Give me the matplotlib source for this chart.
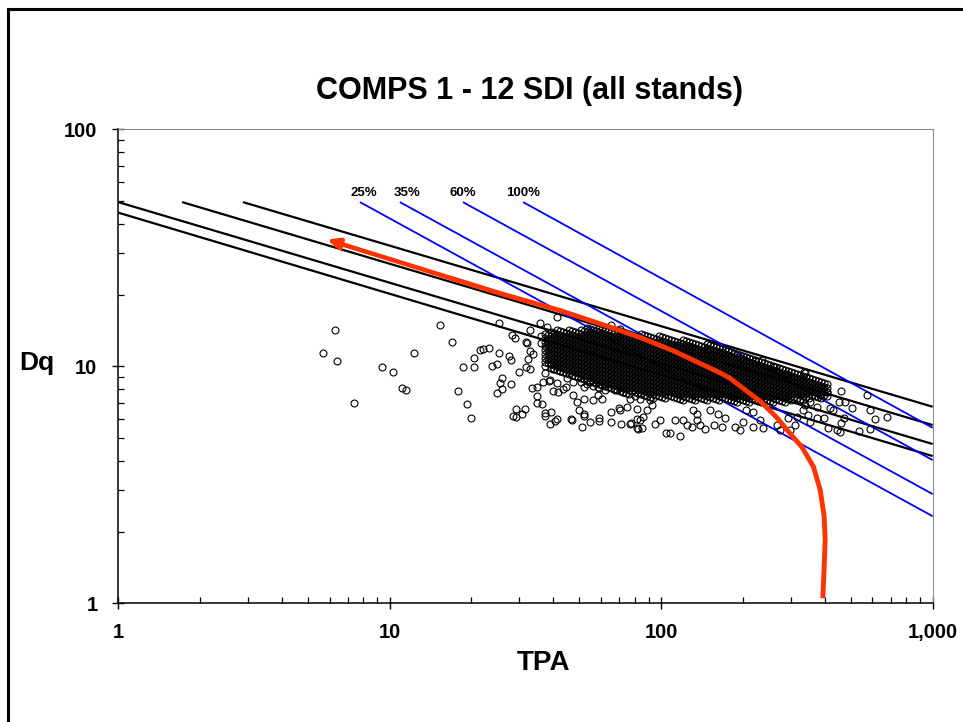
import matplotlib
matplotlib.use('Agg')
import matplotlib.pyplot as plt
from matplotlib.lines import Line2D
from matplotlib.ticker import LogLocator, NullFormatter

plt.rcParams['font.family'] = ['Liberation Sans', 'DejaVu Sans']
plt.rcParams['font.weight'] = 'bold'

# ---------------- data ----------------
title = "COMPS 1 - 12 SDI (all stands)"
x_ticks = [1, 10, 100, 1000]
x_tick_labels = ["1", "10", "100", "1,000"]
y_ticks = [1, 10, 100]
y_tick_labels = ["1", "10", "100"]

# black reference lines: start (TPA, Dq) -> end (TPA, Dq)
black_start_tpa = [2.88, 1.72, 1.0, 1.0]
black_start_dq = [49.3, 49.3, 49.3, 44.5]
black_end_tpa = [1000, 1000, 1000, 1000]
black_end_dq = [6.75, 5.65, 4.70, 4.18]

# blue SDI lines
sdi_labels = ["25%", "35%", "60%", "100%"]
sdi_label_tpa = [8.04, 11.55, 18.6, 31.1]
sdi_start_tpa = [7.77, 10.9, 18.6, 31.0]
sdi_start_dq = [49.3, 49.3, 49.3, 49.3]
sdi_end_tpa = [1000, 1000, 1000, 1000]
sdi_end_dq = [2.33, 2.89, 4.02, 5.50]

# red trajectory (arrow tip first)
red_tpa = [5.86, 16.7, 25.5, 42.4, 63.0, 83.5, 110.9, 138.9, 164.6, 179.2, 195.1,
           231.2, 266.3, 298.2, 329.6, 363.8, 385.4, 398.4, 401.8, 398.4, 393.9]
red_dq = [34.3, 23.6, 20.3, 17.2, 14.8, 13.24, 11.63, 10.29, 9.39, 8.91, 8.26,
          7.13, 6.09, 5.21, 4.57, 3.77, 3.00, 2.32, 1.85, 1.42, 1.05]

# scattered stands (readable individual points)
stand_tpa = [5.66, 6.26, 6.4, 7.4, 9.4, 10.3, 11.1, 11.5, 12.3, 15.3, 17.0, 17.8, 18.6, 19.3,
             19.9, 20.5, 20.4, 21.5, 22.1, 23.3, 25.3, 23.8, 24.8, 25.4, 26.0, 24.8, 26.0,
             28.0, 27.4, 27.9, 25.2, 28.2, 28.9, 29.9, 29.3, 28.4, 29.3, 30.6, 31.5, 31.8,
             32.1, 32.9, 32.8, 33.6, 31.8, 32.9, 32.2, 33.3, 34.8, 34.8, 34.8, 36.5, 35.8,
             37.9, 41.2, 36.1, 36.0, 37.3, 37.2, 39.3, 39.0, 40.6, 41.4, 39.8, 41.6, 43.6,
             36.8, 38.7, 41.2, 44.5, 46.4, 51.0, 54.8, 52.1, 59.2, 59.1, 65.6, 70.2, 81.9,
             85.0, 77.1, 81.2,
             38.9, 46.8, 51.9, 49.6, 48.9, 47.5, 51.9, 56.2, 58.6, 60.3, 70.5, 65.6, 71.2,
             76.7, 83.5, 85.9, 81.2, 88.6, 92.2, 99.0, 95.0, 104.6, 107.7, 117.3, 112.4,
             120.6, 124.1, 129.6, 135.1, 138.9, 145.0, 156.0, 167.5, 151.2, 162.0, 135.0,
             131.4, 39.9, 37.3, 42.4, 44.9, 47.5, 51.9, 54.7, 58.6, 62.6, 67.6, 72.6, 76.7,
             83.5, 90.9, 74.9, 81.2,
             171.8, 187.0, 195.1, 200.6, 218.0, 231.0, 238.0, 218.0, 206.0, 266.0, 274.0,
             298.0, 311.0, 294.0, 317.0, 333.0, 347.0, 353.0, 375.0, 397.0, 412.0, 443.0,
             460.0, 472.0, 419.0, 430.0, 451.0, 475.0, 504.0, 459.0, 339.0, 573.0, 588.0,
             613.0, 677.0, 537.0, 588.0, 407.0, 385.0, 375.0, 353.0, 324.0, 339.0, 456.0,
             65.6, 70.5, 114.0, 147.0, 167.0, 190.0, 221.0, 235.0, 260.0, 290.0, 336.0]
stand_dq = [11.4, 14.2, 10.5, 7.0, 9.9, 9.5, 8.1, 7.94, 11.4, 14.9, 12.7, 7.9, 9.9, 6.9,
            6.05, 9.9, 10.8, 11.7, 11.8, 11.9, 11.4, 10.0, 10.2, 8.5, 8.9, 7.7, 8.0,
            8.4, 11.0, 10.6, 15.2, 13.6, 13.2, 9.5, 6.6, 6.2, 6.1, 6.3, 6.6, 12.7,
            12.5, 14.2, 11.6, 11.3, 9.9, 9.7, 10.7, 8.1, 8.2, 7.5, 7.0, 6.9, 15.2,
            14.7, 16.1, 13.4, 12.6, 6.35, 6.2, 6.4, 5.7, 5.85, 6.0, 7.9, 7.8, 8.0,
            8.6, 8.7, 8.5, 8.2, 6.0, 5.55, 5.8, 6.2, 6.05, 5.9, 6.4, 6.65, 5.45,
            5.5, 5.75, 6.0,
            8.75, 5.93, 6.3, 6.54, 7.1, 7.56, 7.3, 7.2, 7.56, 7.3, 6.54, 5.83, 5.73,
            5.73, 5.93, 6.12, 5.47, 6.54, 6.86, 5.93, 5.73, 5.23, 5.23, 5.08, 5.93,
            5.93, 5.65, 5.55, 5.93, 5.65, 5.45, 5.65, 5.55, 6.54, 6.3, 6.3,
            6.54, 9.74, 9.4, 9.6, 8.9, 8.6, 8.2, 8.6, 8.2, 8.34, 7.94, 7.8, 7.3,
            7.3, 7.2, 6.75, 6.6,
            6.03, 5.55, 5.39, 5.83, 5.55, 5.93, 5.47, 6.4, 6.54, 5.65, 5.39,
            5.39, 5.65, 6.03, 6.12, 6.54, 6.23, 5.83, 6.03, 6.03, 5.47, 5.39,
            5.74, 6.03, 6.7, 6.54, 7.1, 7.05, 6.7, 7.9, 9.4, 7.56, 6.54,
            6.0, 6.12, 5.32, 5.42, 7.8, 7.56, 6.75, 7.05, 7.2, 6.86, 5.3,
            15.0, 14.3, 12.3, 11.8, 11.5, 10.3, 10.5, 10.6, 9.9, 9.3, 9.5]

# dense core of stands, estimated column by column (TPA, list of Dq)
core_tpa = [37.32, 39.3, 41.3, 43.5, 45.7, 48.1, 50.6, 53.3, 56.0, 59.0, 62.1, 65.3,
            68.7, 72.3, 76.1, 80.1, 84.2, 88.6, 93.3, 98.2, 103.3, 108.7, 114.3, 120.3,
            126.6, 133.2, 140.2, 147.5, 155.2, 163.3, 171.8, 180.8, 190.2, 200.2, 210.6,
            221.5, 233.1, 245.3, 258.1, 271.6, 285.8, 300.7, 316.4, 332.9, 350.3, 368.6,
            387.8, 408.1]
core_dq = [
    [13.68, 13.16, 12.66, 12.18, 11.71, 11.26, 10.84, 10.42, 10.03],
    [13.94, 13.41, 12.90, 12.41, 11.94, 11.49, 11.05, 10.63, 10.22, 9.83],
    [14.22, 13.68, 13.16, 12.66, 12.18, 11.71, 11.26, 10.84, 10.42, 10.03, 9.64],
    [13.94, 13.41, 12.90, 12.41, 11.94, 11.49, 11.05, 10.63, 10.22, 9.83, 9.46],
    [14.22, 13.68, 13.16, 12.66, 12.18, 11.71, 11.26, 10.84, 10.42, 10.03, 9.64, 9.28],
    [13.94, 13.41, 12.90, 12.41, 11.94, 11.49, 11.05, 10.63, 10.22, 9.83, 9.46, 9.10],
    [14.22, 13.68, 13.16, 12.66, 12.18, 11.71, 11.26, 10.84, 10.42, 10.03, 9.64, 9.28, 8.92, 8.58],
    [14.49, 13.94, 13.41, 12.90, 12.41, 11.94, 11.49, 11.05, 10.63, 10.22, 9.83, 9.46, 9.10, 8.75, 8.42],
    [14.22, 13.68, 13.16, 12.66, 12.18, 11.71, 11.26, 10.84, 10.42, 10.03, 9.64, 9.28, 8.92, 8.58, 8.26],
    [14.49, 13.94, 13.41, 12.90, 12.41, 11.94, 11.49, 11.05, 10.63, 10.22, 9.83, 9.46, 9.10, 8.75, 8.42, 8.10],
    [14.22, 13.68, 13.16, 12.66, 12.18, 11.71, 11.26, 10.84, 10.42, 10.03, 9.64, 9.28, 8.92, 8.58, 8.26, 7.94],
    [13.94, 13.41, 12.90, 12.41, 11.94, 11.49, 11.05, 10.63, 10.22, 9.83, 9.46, 9.10, 8.75, 8.42, 8.10],
    [14.22, 13.68, 13.16, 12.66, 12.18, 11.71, 11.26, 10.84, 10.42, 10.03, 9.64, 9.28, 8.92, 8.58, 8.26, 7.94],
    [13.94, 13.41, 12.90, 12.41, 11.94, 11.49, 11.05, 10.63, 10.22, 9.83, 9.46, 9.10, 8.75, 8.42, 8.10, 7.79],
    [13.68, 13.16, 12.66, 12.18, 11.71, 11.26, 10.84, 10.42, 10.03, 9.64, 9.28, 8.92, 8.58, 8.26, 7.94, 7.64],
    [13.41, 12.90, 12.41, 11.94, 11.49, 11.05, 10.63, 10.22, 9.83, 9.46, 9.10, 8.75, 8.42, 8.10, 7.79, 7.49],
    [13.68, 13.16, 12.66, 12.18, 11.71, 11.26, 10.84, 10.42, 10.03, 9.64, 9.28, 8.92, 8.58, 8.26, 7.94, 7.64],
    [13.41, 12.90, 12.41, 11.94, 11.49, 11.05, 10.63, 10.22, 9.83, 9.46, 9.10, 8.75, 8.42, 8.10, 7.79, 7.49],
    [13.16, 12.66, 12.18, 11.71, 11.26, 10.84, 10.42, 10.03, 9.64, 9.28, 8.92, 8.58, 8.26, 7.94, 7.64, 7.35],
    [13.41, 12.90, 12.41, 11.94, 11.49, 11.05, 10.63, 10.22, 9.83, 9.46, 9.10, 8.75, 8.42, 8.10, 7.79, 7.49],
    [13.16, 12.66, 12.18, 11.71, 11.26, 10.84, 10.42, 10.03, 9.64, 9.28, 8.92, 8.58, 8.26, 7.94, 7.64, 7.35],
    [12.90, 12.41, 11.94, 11.49, 11.05, 10.63, 10.22, 9.83, 9.46, 9.10, 8.75, 8.42, 8.10, 7.79, 7.49],
    [12.66, 12.18, 11.71, 11.26, 10.84, 10.42, 10.03, 9.64, 9.28, 8.92, 8.58, 8.26, 7.94, 7.64, 7.35],
    [12.90, 12.41, 11.94, 11.49, 11.05, 10.63, 10.22, 9.83, 9.46, 9.10, 8.75, 8.42, 8.10, 7.79, 7.49, 7.21],
    [12.66, 12.18, 11.71, 11.26, 10.84, 10.42, 10.03, 9.64, 9.28, 8.92, 8.58, 8.26, 7.94, 7.64, 7.35],
    [12.41, 11.94, 11.49, 11.05, 10.63, 10.22, 9.83, 9.46, 9.10, 8.75, 8.42, 8.10, 7.79, 7.49, 7.21],
    [12.18, 11.71, 11.26, 10.84, 10.42, 10.03, 9.64, 9.28, 8.92, 8.58, 8.26, 7.94, 7.64, 7.35],
    [12.41, 11.94, 11.49, 11.05, 10.63, 10.22, 9.83, 9.46, 9.10, 8.75, 8.42, 8.10, 7.79, 7.49, 7.21],
    [12.18, 11.71, 11.26, 10.84, 10.42, 10.03, 9.64, 9.28, 8.92, 8.58, 8.26, 7.94, 7.64, 7.35],
    [11.94, 11.49, 11.05, 10.63, 10.22, 9.83, 9.46, 9.10, 8.75, 8.42, 8.10, 7.79, 7.49, 7.21],
    [11.71, 11.26, 10.84, 10.42, 10.03, 9.64, 9.28, 8.92, 8.58, 8.26, 7.94, 7.64, 7.35],
    [11.49, 11.05, 10.63, 10.22, 9.83, 9.46, 9.10, 8.75, 8.42, 8.10, 7.79, 7.49, 7.21],
    [11.26, 10.84, 10.42, 10.03, 9.64, 9.28, 8.92, 8.58, 8.26, 7.94, 7.64, 7.35, 7.07],
    [11.05, 10.63, 10.22, 9.83, 9.46, 9.10, 8.75, 8.42, 8.10, 7.79, 7.49, 7.21],
    [10.84, 10.42, 10.03, 9.64, 9.28, 8.92, 8.58, 8.26, 7.94, 7.64, 7.35, 7.07],
    [10.63, 10.22, 9.83, 9.46, 9.10, 8.75, 8.42, 8.10, 7.79, 7.49, 7.21],
    [10.42, 10.03, 9.64, 9.28, 8.92, 8.58, 8.26, 7.94, 7.64, 7.35, 7.07],
    [10.22, 9.83, 9.46, 9.10, 8.75, 8.42, 8.10, 7.79, 7.49, 7.21],
    [10.03, 9.64, 9.28, 8.92, 8.58, 8.26, 7.94, 7.64, 7.35, 7.07],
    [9.83, 9.46, 9.10, 8.75, 8.42, 8.10, 7.79, 7.49, 7.21],
    [9.64, 9.28, 8.92, 8.58, 8.26, 7.94, 7.64, 7.35, 7.07],
    [9.46, 9.10, 8.75, 8.42, 8.10, 7.79, 7.49, 7.21],
    [9.28, 8.92, 8.58, 8.26, 7.94, 7.64, 7.35],
    [9.10, 8.75, 8.42, 8.10, 7.79, 7.49, 7.21],
    [8.92, 8.58, 8.26, 7.94, 7.64, 7.35],
    [8.75, 8.42, 8.10, 7.79, 7.49],
    [8.58, 8.26, 7.94, 7.64, 7.35],
    [8.42, 8.10, 7.79, 7.49],
]

# further stands packed in between the core columns
core2_tpa = [38.31, 40.31, 42.42, 44.63, 46.96, 49.41, 51.99, 54.70, 57.56, 60.56, 63.72,
             67.05, 70.55, 74.23, 78.11, 82.19, 86.48, 90.99, 95.76, 100.8, 106.0, 111.6,
             117.4, 123.5, 130.0, 136.8, 143.9, 151.4, 159.3, 167.7, 176.4, 185.6, 195.3,
             205.5, 216.2, 227.5, 239.4, 251.9, 265.0, 278.9, 293.4, 308.7, 324.9, 341.9,
             359.7, 378.5, 398.2]
core2_dq = [
    [13.55, 13.03, 12.53, 12.06, 11.60, 11.15, 10.73, 10.32],
    [13.81, 13.28, 12.78, 12.29, 11.82, 11.37, 10.95, 10.53, 10.12, 9.74],
    [14.08, 13.55, 13.03, 12.53, 12.06, 11.60, 11.15, 10.73, 10.32, 9.93, 9.55],
    [13.81, 13.28, 12.78, 12.29, 11.82, 11.37, 10.95, 10.53, 10.12, 9.74, 9.37],
    [14.08, 13.55, 13.03, 12.53, 12.06, 11.60, 11.15, 10.73, 10.32, 9.93, 9.55, 9.19],
    [13.81, 13.28, 12.78, 12.29, 11.82, 11.37, 10.95, 10.53, 10.12, 9.74, 9.37, 9.01],
    [14.08, 13.55, 13.03, 12.53, 12.06, 11.60, 11.15, 10.73, 10.32, 9.93, 9.55, 9.19, 8.84],
    [14.36, 13.81, 13.28, 12.78, 12.29, 11.82, 11.37, 10.95, 10.53, 10.12, 9.74, 9.37, 9.01, 8.67],
    [14.08, 13.55, 13.03, 12.53, 12.06, 11.60, 11.15, 10.73, 10.32, 9.93, 9.55, 9.19, 8.84, 8.50],
    [14.36, 13.81, 13.28, 12.78, 12.29, 11.82, 11.37, 10.95, 10.53, 10.12, 9.74, 9.37, 9.01, 8.67, 8.34],
    [14.08, 13.55, 13.03, 12.53, 12.06, 11.60, 11.15, 10.73, 10.32, 9.93, 9.55, 9.19, 8.84, 8.50, 8.18],
    [13.81, 13.28, 12.78, 12.29, 11.82, 11.37, 10.95, 10.53, 10.12, 9.74, 9.37, 9.01, 8.67, 8.34, 8.02],
    [14.08, 13.55, 13.03, 12.53, 12.06, 11.60, 11.15, 10.73, 10.32, 9.93, 9.55, 9.19, 8.84, 8.50, 8.18, 7.87],
    [13.81, 13.28, 12.78, 12.29, 11.82, 11.37, 10.95, 10.53, 10.12, 9.74, 9.37, 9.01, 8.67, 8.34, 8.02, 7.71],
    [13.55, 13.03, 12.53, 12.06, 11.60, 11.15, 10.73, 10.32, 9.93, 9.55, 9.19, 8.84, 8.50, 8.18, 7.87],
    [13.28, 12.78, 12.29, 11.82, 11.37, 10.95, 10.53, 10.12, 9.74, 9.37, 9.01, 8.67, 8.34, 8.02, 7.71],
    [13.55, 13.03, 12.53, 12.06, 11.60, 11.15, 10.73, 10.32, 9.93, 9.55, 9.19, 8.84, 8.50, 8.18, 7.87, 7.56],
    [13.28, 12.78, 12.29, 11.82, 11.37, 10.95, 10.53, 10.12, 9.74, 9.37, 9.01, 8.67, 8.34, 8.02, 7.71, 7.42],
    [13.03, 12.53, 12.06, 11.60, 11.15, 10.73, 10.32, 9.93, 9.55, 9.19, 8.84, 8.50, 8.18, 7.87, 7.56],
    [13.28, 12.78, 12.29, 11.82, 11.37, 10.95, 10.53, 10.12, 9.74, 9.37, 9.01, 8.67, 8.34, 8.02, 7.71, 7.42],
    [13.03, 12.53, 12.06, 11.60, 11.15, 10.73, 10.32, 9.93, 9.55, 9.19, 8.84, 8.50, 8.18, 7.87, 7.56],
    [12.78, 12.29, 11.82, 11.37, 10.95, 10.53, 10.12, 9.74, 9.37, 9.01, 8.67, 8.34, 8.02, 7.71, 7.42],
    [12.53, 12.06, 11.60, 11.15, 10.73, 10.32, 9.93, 9.55, 9.19, 8.84, 8.50, 8.18, 7.87, 7.56, 7.28],
    [12.78, 12.29, 11.82, 11.37, 10.95, 10.53, 10.12, 9.74, 9.37, 9.01, 8.67, 8.34, 8.02, 7.71, 7.42],
    [12.53, 12.06, 11.60, 11.15, 10.73, 10.32, 9.93, 9.55, 9.19, 8.84, 8.50, 8.18, 7.87, 7.56, 7.28],
    [12.29, 11.82, 11.37, 10.95, 10.53, 10.12, 9.74, 9.37, 9.01, 8.67, 8.34, 8.02, 7.71, 7.42],
    [12.06, 11.60, 11.15, 10.73, 10.32, 9.93, 9.55, 9.19, 8.84, 8.50, 8.18, 7.87, 7.56, 7.28],
    [12.29, 11.82, 11.37, 10.95, 10.53, 10.12, 9.74, 9.37, 9.01, 8.67, 8.34, 8.02, 7.71, 7.42],
    [12.06, 11.60, 11.15, 10.73, 10.32, 9.93, 9.55, 9.19, 8.84, 8.50, 8.18, 7.87, 7.56, 7.28],
    [11.82, 11.37, 10.95, 10.53, 10.12, 9.74, 9.37, 9.01, 8.67, 8.34, 8.02, 7.71, 7.42],
    [11.60, 11.15, 10.73, 10.32, 9.93, 9.55, 9.19, 8.84, 8.50, 8.18, 7.87, 7.56, 7.28],
    [11.37, 10.95, 10.53, 10.12, 9.74, 9.37, 9.01, 8.67, 8.34, 8.02, 7.71, 7.42, 7.14],
    [11.15, 10.73, 10.32, 9.93, 9.55, 9.19, 8.84, 8.50, 8.18, 7.87, 7.56, 7.28],
    [10.95, 10.53, 10.12, 9.74, 9.37, 9.01, 8.67, 8.34, 8.02, 7.71, 7.42, 7.14],
    [10.73, 10.32, 9.93, 9.55, 9.19, 8.84, 8.50, 8.18, 7.87, 7.56, 7.28],
    [10.53, 10.12, 9.74, 9.37, 9.01, 8.67, 8.34, 8.02, 7.71, 7.42, 7.14],
    [10.32, 9.93, 9.55, 9.19, 8.84, 8.50, 8.18, 7.87, 7.56, 7.28],
    [10.12, 9.74, 9.37, 9.01, 8.67, 8.34, 8.02, 7.71, 7.42, 7.14],
    [9.93, 9.55, 9.19, 8.84, 8.50, 8.18, 7.87, 7.56, 7.28],
    [9.74, 9.37, 9.01, 8.67, 8.34, 8.02, 7.71, 7.42, 7.14],
    [9.55, 9.19, 8.84, 8.50, 8.18, 7.87, 7.56, 7.28],
    [9.37, 9.01, 8.67, 8.34, 8.02, 7.71, 7.42],
    [9.19, 8.84, 8.50, 8.18, 7.87, 7.56, 7.28],
    [9.01, 8.67, 8.34, 8.02, 7.71, 7.42],
    [8.84, 8.50, 8.18, 7.87, 7.56],
    [8.67, 8.34, 8.02, 7.71, 7.42],
    [8.50, 8.18, 7.87, 7.56],
]

# ---------------- figure ----------------
fig = plt.figure(figsize=(9.63, 7.22), dpi=100)
ax = fig.add_axes([0.1228, 0.1644, 0.8457, 0.6565])
ax.set_xscale('log')
ax.set_yscale('log')

for st, sd, et, ed in zip(black_start_tpa, black_start_dq, black_end_tpa, black_end_dq):
    ax.plot([st, et], [sd, ed], color='black', lw=1.6, zorder=2, solid_capstyle='butt')

for st, sd, et, ed in zip(sdi_start_tpa, sdi_start_dq, sdi_end_tpa, sdi_end_dq):
    ax.plot([st, et], [sd, ed], color='#0000ff', lw=1.3, zorder=2, solid_capstyle='butt')

for lab, lt in zip(sdi_labels, sdi_label_tpa):
    ax.text(lt, 52.4, lab, ha='center', va='baseline', fontsize=9.5, fontweight='bold')

mk = dict(marker='o', ls='none', mfc='none', mec='black', ms=5.0, mew=0.8, zorder=3)
ax.plot(stand_tpa, stand_dq, **mk)
for t, col in zip(core_tpa, core_dq):
    ax.plot([t] * len(col), col, **mk)
for t, col in zip(core2_tpa, core2_dq):
    ax.plot([t] * len(col), col, **mk)

red = '#ff3300'
ax.plot(red_tpa[1:], red_dq[1:], color=red, lw=3.5, zorder=5, solid_capstyle='butt',
        solid_joinstyle='round')
ax.annotate('', xy=(red_tpa[0], red_dq[0]), xytext=(red_tpa[1], red_dq[1]),
            arrowprops=dict(arrowstyle='-|>,head_length=0.5,head_width=0.22', color=red,
                            lw=3.3, shrinkA=0, shrinkB=0, mutation_scale=14),
            zorder=5)

ax.set_xlim(1, 1000)
ax.set_ylim(1, 100)
ax.set_xticks(x_ticks)
ax.set_xticklabels(x_tick_labels)
ax.set_yticks(y_ticks)
ax.set_yticklabels(y_tick_labels)
ax.xaxis.set_minor_locator(LogLocator(base=10, subs=range(2, 10)))
ax.yaxis.set_minor_locator(LogLocator(base=10, subs=range(2, 10)))
ax.xaxis.set_minor_formatter(NullFormatter())
ax.yaxis.set_minor_formatter(NullFormatter())

ax.tick_params(which='major', direction='inout', length=8, width=1.0, labelsize=14.5)
ax.tick_params(axis='x', which='major', pad=10.5)
ax.tick_params(axis='y', which='major', pad=11)
ax.tick_params(which='minor', direction='in', length=4, width=0.9)
ax.tick_params(top=False, right=False, which='both')
for lab in ax.get_xticklabels() + ax.get_yticklabels():
    lab.set_fontweight('bold')

for s in ['top', 'right']:
    ax.spines[s].set_color('#8c8c8c')
    ax.spines[s].set_linewidth(0.8)
for s in ['left', 'bottom']:
    ax.spines[s].set_color('black')
    ax.spines[s].set_linewidth(1.1)

fig.text(0.55, 1 - 99 / 722, title, ha='center', va='baseline', fontsize=22, fontweight='bold')
fig.text(0.5644, 1 - 670 / 722, 'TPA', ha='center', va='baseline', fontsize=20, fontweight='bold')
fig.text(0.0379, 1 - 370 / 722, 'Dq', ha='center', va='baseline', fontsize=19, fontweight='bold')

# outer frame (left and top edges visible)
fig.add_artist(Line2D([8 / 963, 8 / 963], [0, 1 - 9 / 722], transform=fig.transFigure,
                      color='black', lw=2.2))
fig.add_artist(Line2D([8 / 963, 1.0], [1 - 9 / 722, 1 - 9 / 722], transform=fig.transFigure,
                      color='black', lw=2.2))

fig.savefig('out.png', dpi=100)
